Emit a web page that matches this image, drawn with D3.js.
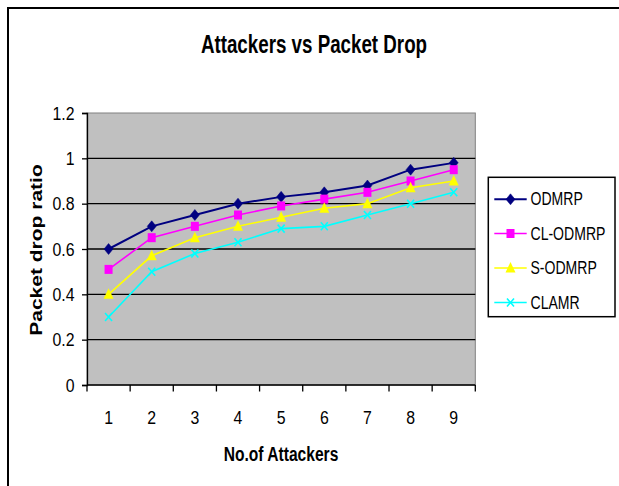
<!DOCTYPE html>
<html>
<head>
<meta charset="utf-8">
<script src="https://cdn.jsdelivr.net/npm/d3@7"></script>
<style>
html,body{margin:0;padding:0;background:#fff;}
svg{display:block;font-family:"Liberation Sans",Arial,sans-serif;}
</style>
</head>
<body>
<svg id="chart" width="619" height="486"></svg>
<script>
const categories = ["1","2","3","4","5","6","7","8","9"];
const seriesNames = ["ODMRP","CL-ODMRP","S-ODMRP","CLAMR"];
const odmrp   = [0.60, 0.70, 0.75, 0.80, 0.83, 0.85, 0.88, 0.95, 0.98];
const clOdmrp = [0.51, 0.65, 0.70, 0.75, 0.79, 0.82, 0.85, 0.90, 0.95];
const sOdmrp  = [0.40, 0.57, 0.65, 0.70, 0.74, 0.78, 0.80, 0.87, 0.90];
const clamr   = [0.30, 0.50, 0.58, 0.63, 0.69, 0.70, 0.75, 0.80, 0.85];
const yTicks  = [0, 0.2, 0.4, 0.6, 0.8, 1.0, 1.2];
const titleText = "Attackers vs Packet Drop";
const xTitle = "No.of Attackers";
const yTitle = "Packet drop ratio";

const seriesValues = [odmrp, clOdmrp, sOdmrp, clamr];
const colors = ["#000080","#ff00ff","#ffff00","#00ffff"];
const markers = ["diamond","square","triangle","x"];

const svg = d3.select("#chart");
function squeeze(sel, k){
  sel.each(function(){
    const L = this.getComputedTextLength();
    this.setAttribute("textLength", L*k);
    this.setAttribute("lengthAdjust","spacingAndGlyphs");
  });
}

// outer border
svg.append("rect").attr("x",8).attr("y",8).attr("width",640).attr("height",520)
  .attr("fill","#fff").attr("stroke","#000").attr("stroke-width",2);

const L = 87, R = 475.3, T = 113, B = 385;
const x = d3.scaleBand().domain(categories).range([L,R]).padding(0);
const y = d3.scaleLinear().domain([0,1.2]).range([B,T]);

// plot area
svg.append("rect").attr("x",L).attr("y",T).attr("width",R-L).attr("height",B-T)
  .attr("fill","#c0c0c0").attr("stroke","#808080").attr("stroke-width",1);

// gridlines
svg.append("g").selectAll("line").data(yTicks.filter(d=>d>0 && d<1.2)).join("line")
  .attr("x1",L).attr("x2",R).attr("y1",d=>y(d)).attr("y2",d=>y(d))
  .attr("stroke","#000").attr("stroke-width",1.3);

// y axis
const yAxis = svg.append("g").attr("transform",`translate(${L},0)`)
  .call(d3.axisLeft(y).tickValues(yTicks).tickSize(5).tickPadding(7.5)
    .tickFormat(d=>String(+d.toFixed(1))));
yAxis.select(".domain").attr("stroke","#000").attr("stroke-width",1.3);
yAxis.selectAll(".tick line").attr("stroke","#000").attr("stroke-width",1.3);
yAxis.selectAll("text").attr("font-size",18).attr("fill","#000")
  .attr("font-family","Liberation Sans, Arial, sans-serif").attr("dy","0.35em");
squeeze(yAxis.selectAll("text"), 0.88);

// x axis labels
const xAxis = svg.append("g").attr("transform",`translate(0,${B})`)
  .call(d3.axisBottom(x).tickSize(0));
xAxis.select(".domain").remove();
xAxis.selectAll("text").attr("y",39).attr("dy",0).attr("font-size",18).attr("fill","#000")
  .attr("font-family","Liberation Sans, Arial, sans-serif");
squeeze(xAxis.selectAll("text"), 0.88);
// x axis line and boundary ticks
const bounds = categories.map(c=>x(c)).concat([R]);
svg.append("line").attr("x1",L).attr("x2",R).attr("y1",B).attr("y2",B)
  .attr("stroke","#000").attr("stroke-width",1.6);
svg.append("g").selectAll("line").data(bounds).join("line")
  .attr("x1",d=>d).attr("x2",d=>d).attr("y1",B).attr("y2",B+6.5)
  .attr("stroke","#000").attr("stroke-width",1.3);

// marker drawing
function drawMarker(g, type, cx, cy, color){
  if(type==="diamond"){
    g.append("path").attr("d",`M${cx},${cy-5.5}L${cx+4.5},${cy}L${cx},${cy+5.5}L${cx-4.5},${cy}Z`)
      .attr("fill",color).attr("stroke",color).attr("stroke-width",0.5);
  } else if(type==="square"){
    g.append("rect").attr("x",cx-4).attr("y",cy-4.5).attr("width",8).attr("height",9)
      .attr("fill",color);
  } else if(type==="triangle"){
    g.append("path").attr("d",`M${cx},${cy-6}L${cx+5},${cy+4.5}L${cx-5},${cy+4.5}Z`)
      .attr("fill",color);
  } else {
    g.append("path").attr("d",`M${cx-3.5},${cy-4}L${cx+3.5},${cy+4}M${cx-3.5},${cy+4}L${cx+3.5},${cy-4}`)
      .attr("stroke",color).attr("stroke-width",1.6).attr("fill","none");
  }
}

// series lines
const cx = c => x(c) + x.bandwidth()/2;
const line = d3.line().x((d,i)=>cx(categories[i])).y(d=>y(d));
seriesValues.forEach((vals,si)=>{
  const g = svg.append("g");
  g.append("path").datum(vals).attr("d",line).attr("fill","none")
    .attr("stroke",colors[si]).attr("stroke-width",si===0?2:1.6);
  vals.forEach((v,i)=>drawMarker(g, markers[si], cx(categories[i]), y(v), colors[si]));
});

// title
const t = svg.append("text").attr("x",314).attr("y",53).attr("text-anchor","middle")
  .attr("font-size",25).attr("font-weight","bold").attr("fill","#000").text(titleText);
squeeze(t, 0.75);

// x title
const xt = svg.append("text").attr("x",281).attr("y",461).attr("text-anchor","middle")
  .attr("font-size",20).attr("font-weight","bold").attr("fill","#000").text(xTitle);
squeeze(xt, 0.78);

// y title
svg.append("text").attr("transform","translate(41.5,250) scale(0.77,1) rotate(-90)")
  .attr("text-anchor","middle").attr("font-size",21).attr("font-weight","bold")
  .attr("fill","#000").text(yTitle);

// legend
const lg = svg.append("g");
lg.append("rect").attr("x",488.3).attr("y",177.3).attr("width",126.7).attr("height",139.4)
  .attr("fill","#fff").attr("stroke","#000").attr("stroke-width",1.5);
const legY = [199.3, 233.5, 268, 302.5];
seriesNames.forEach((name,i)=>{
  const ly = legY[i];
  lg.append("line").attr("x1",494.3).attr("x2",526.7).attr("y1",ly).attr("y2",ly)
    .attr("stroke",colors[i]).attr("stroke-width",i===0?2:1.6);
  drawMarker(lg, markers[i], 510.5, ly, colors[i]);
  const tx = lg.append("text").attr("x",530.5).attr("y",ly+6).attr("font-size",18)
    .attr("fill","#000").text(name);
  squeeze(tx, 0.78);
});
</script>
</body>
</html>
